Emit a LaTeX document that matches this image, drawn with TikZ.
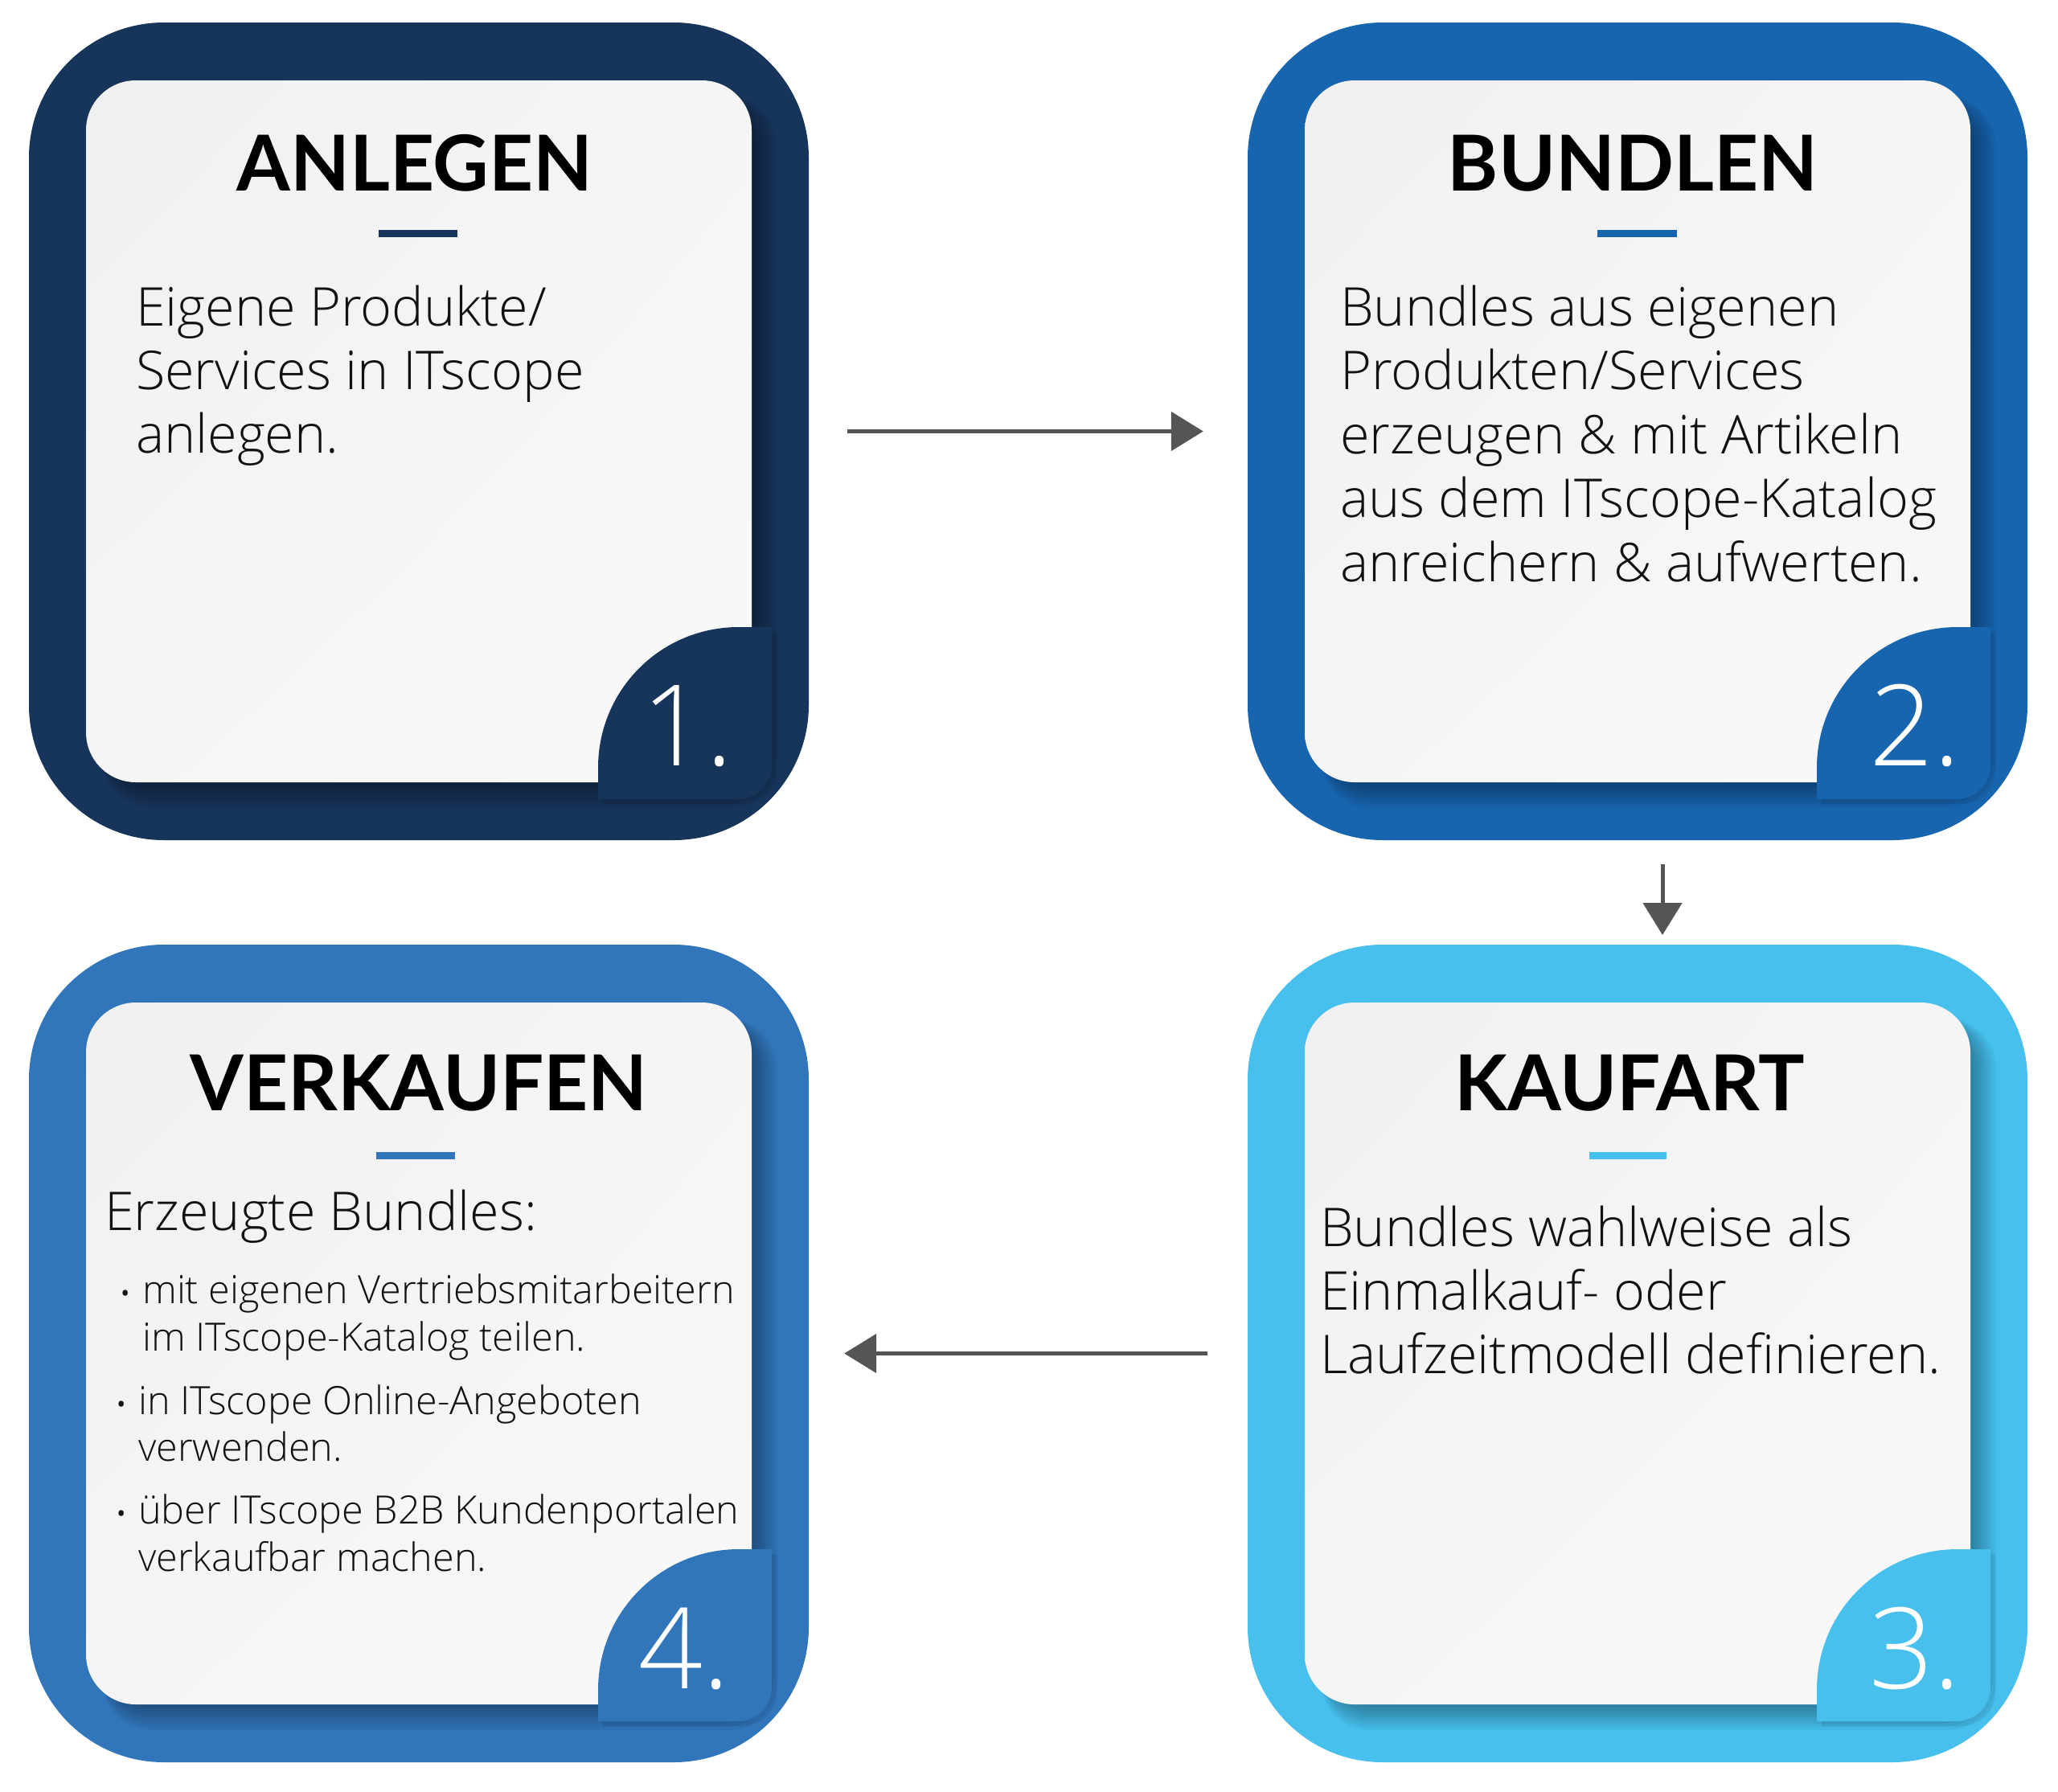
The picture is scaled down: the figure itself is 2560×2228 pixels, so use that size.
\documentclass[tikz,border=0pt]{standalone}
\usepackage{fontspec}
\setmainfont{Open Sans}
\newfontfamily\lightfont{Open Sans Light}
\newfontfamily\titlefont{Lato}
\usetikzlibrary{arrows.meta,shadings}
\definecolor{cA}{HTML}{17345A}
\definecolor{cB}{HTML}{1865AF}
\definecolor{cC}{HTML}{47C0EE}
\definecolor{cD}{HTML}{3176BB}
\definecolor{cardUL}{HTML}{F0F0F0}
\definecolor{cardMID}{HTML}{F5F5F5}
\definecolor{cardLR}{HTML}{F9F9F9}
\definecolor{arrowgray}{HTML}{555555}
\definecolor{txt}{HTML}{111111}
\tikzset{
  outerbox/.style={inner sep=0pt, rounded corners=168pt, minimum width=970pt, minimum height=1017pt},
  titletext/.style={anchor=base, text=black, font=\titlefont\bfseries\fontsize{96}{110}\selectfont, inner sep=0pt},
  bodytext/.style={anchor=base west, text=txt, font=\lightfont\fontsize{66.5}{78}\selectfont, inner sep=0pt},
  smalltext/.style={anchor=base west, text=txt, font=\lightfont\fontsize{48.5}{59}\selectfont, inner sep=0pt},
  bullettext/.style={anchor=base west, text=txt, font=\fontsize{30}{36}\selectfont, inner sep=0pt},
  digit/.style={anchor=base, text=white, font=\lightfont\fontsize{140}{150}\selectfont, inner sep=0pt},
  arr/.style={draw=arrowgray, line width=5pt, -{Triangle[length=40pt,width=48pt]}}
}
\newcommand\drawstage[4]{%
  \node[outerbox, fill=#4] (#1) at (521+#2, 536.5+#3) {};
  \foreach \d in {4,8,...,32}
    \fill[black, opacity=0.045, rounded corners=62pt] (127+#2,120+#3) rectangle (935+\d+#2, 973+\d+#3);
  \shade[upper left=cardUL, upper right=cardMID, lower left=cardMID, lower right=cardLR, rounded corners=62pt] (107+#2,100+#3) rectangle (935+#2,973+#3);
  \fill[black, opacity=0.08] (750+#2, 1000+#3) -- (750+#2, 961+#3) .. controls (750+#2, 864+#3) and (828+#2, 786+#3) .. (925+#2, 786+#3)
     -- (966+#2, 786+#3) -- (966+#2, 958+#3) .. controls (966+#2, 981+#3) and (947+#2, 1000+#3) .. (924+#2, 1000+#3) -- cycle;
  \fill[#4] (744+#2, 994+#3) -- (744+#2, 955+#3) .. controls (744+#2, 858+#3) and (822+#2, 780+#3) .. (919+#2, 780+#3)
     -- (960+#2, 780+#3) -- (960+#2, 952+#3) .. controls (960+#2, 975+#3) and (941+#2, 994+#3) .. (918+#2, 994+#3) -- cycle;
}
\begin{document}
\begin{tikzpicture}[x=1pt,y=-1pt]
\useasboundingbox[fill=white] (0,0) rectangle (2560,2228);

\drawstage{b1}{0}{0}{cA}
\drawstage{b2}{1516}{0}{cB}
\drawstage{b3}{1516}{1147}{cC}
\drawstage{b4}{0}{1147}{cD}

% titles
\node[titletext] (t1) at (516,237) {ANLEGEN};
\node[titletext] (t2) at (2031,237) {BUNDLEN};
\node[titletext] (t3) at (2027,1381) {KAUFART};
\node[titletext] (t4) at (521,1381) {VERKAUFEN};

% underlines
\fill[cA] (471,286) rectangle (569,295);
\fill[cB] (1987,286) rectangle (2086,295);
\fill[cC] (1977,1433) rectangle (2073,1442);
\fill[cD] (468,1433) rectangle (566,1442);

% stage 1 text
\foreach \t [count=\i] in {Eigene Produkte/, Services in ITscope, anlegen.}
  \node[bodytext] (s1l\i) at (169, 405+79*\i-79) {\t};

% stage 2 text
\foreach \t [count=\i] in {Bundles aus eigenen, Produkten/Services, erzeugen \& mit Artikeln, aus dem ITscope-Katalog, anreichern \& aufwerten.}
  \node[bodytext] (s2l\i) at (1667, 405+79.5*\i-79.5) {\t};

% stage 3 text
\foreach \t [count=\i] in {Bundles wahlweise als, Einmalkauf- oder, Laufzeitmodell definieren.}
  \node[bodytext] (s3l\i) at (1642, 1550+79*\i-79) {\t};

% stage 4 text
\node[bodytext] (s4h) at (130,1530) {Erzeugte Bundles:};
\node[bullettext] (s4b1) at (150,1619) {•};
\node[smalltext] (s4l1) at (177,1621) {mit eigenen Vertriebsmitarbeitern};
\node[smalltext] (s4l2) at (177,1680) {im ITscope-Katalog teilen.};
\node[bullettext] (s4b2) at (145,1757) {•};
\node[smalltext] (s4l3) at (172,1759) {in ITscope Online-Angeboten};
\node[smalltext] (s4l4) at (172,1817) {verwenden.};
\node[bullettext] (s4b3) at (145,1893) {•};
\node[smalltext] (s4l5) at (172,1895) {über ITscope B2B Kundenportalen};
\node[smalltext] (s4l6) at (172,1954) {verkaufbar machen.};

% digits
\node[digit] (d1) at (855,952) {1.};
\node[digit] (d2) at (2382,952) {2.};
\node[digit] (d3) at (2382,2100) {3.};
\node[digit] (d4) at (851,2100) {4.};

% arrows
\coordinate (a2s) at (2068,1075);
\coordinate (a2e) at (2068,1163);
\draw[arr, shorten <=48pt, shorten >=55pt] (b1.east) -- (b2.west);
\draw[arr] (a2s) -- (a2e);
\draw[arr, shorten <=50pt, shorten >=44pt] (b3.west) -- (b4.east);
\end{tikzpicture}
\end{document}
